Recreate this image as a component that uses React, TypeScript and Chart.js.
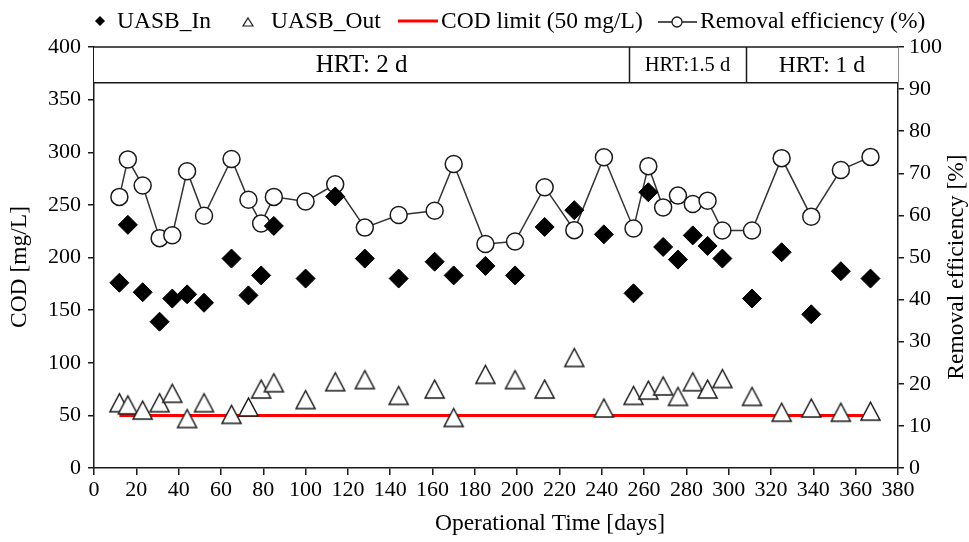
import React, { useEffect, useRef } from 'react';
import { Chart, registerables } from 'chart.js';

Chart.register(...registerables);

// Sampling days shared by the three measured series
const operationalDays = [
  12, 16, 23, 31, 37, 44, 52, 65, 73, 79, 85, 100, 114, 128, 144, 161, 170,
  185, 199, 213, 227, 241, 255, 262, 269, 276, 283, 290, 297, 311, 325, 339, 353, 367,
];

// Influent COD (mg/L)
const codIn = [
  176, 231, 167, 139, 161, 165, 157, 199, 164, 183, 230, 180, 258, 199, 180, 196, 183,
  192, 183, 229, 245, 222, 166, 262, 210, 198, 221, 211, 199, 161, 205, 146, 187, 180,
];

// Effluent COD (mg/L)
const codOut = [
  62, 60, 55, 62, 71, 47, 62, 51, 58, 75, 81, 65, 82, 84, 69, 75, 48,
  89, 84, 75, 105, 57, 69, 74, 78, 68, 82, 75, 85, 68, 53, 57, 53, 54,
];

// COD removal efficiency (%)
const removalPct = [
  64.4, 73.3, 67.1, 54.6, 55.3, 70.5, 59.9, 73.4, 63.7, 58.1, 64.4, 63.3, 67.4, 57.1, 60.1, 61.1, 72.2,
  53.2, 53.8, 66.7, 56.5, 73.8, 56.9, 71.7, 61.9, 64.7, 62.7, 63.5, 56.4, 56.4, 73.6, 59.7, 70.8, 73.9,
];

// Discharge limit
const limitDays = [12, 367];
const limitValues = [50, 50];

// Hydraulic retention time periods (day boundaries) shown in the top band
const hrtBoundaries = [0, 253, 308, 380];
const hrtLabels = ['HRT: 2 d', 'HRT:1.5 d', 'HRT: 1 d'];
const hrtBandFloor = 366;

const legendLabels = ['UASB_In', 'UASB_Out', 'COD limit (50 mg/L)', 'Removal efficiency (%)'];
const xTitle = 'Operational Time [days]';
const yTitle = 'COD [mg/L]';
const y1Title = 'Removal efficiency [%]';

const SERIF = '"Liberation Serif", "Times New Roman", serif';
const INK = '#1a1a1a';

const pts = (xs: number[], ys: number[]) => xs.map((x, i) => ({ x, y: ys[i] }));

function makeTriangle(w: number, h: number, lw: number): HTMLCanvasElement {
  const c = document.createElement('canvas');
  const pad = Math.ceil(lw) + 1;
  c.width = w + pad * 2;
  c.height = h + pad * 2;
  const g = c.getContext('2d')!;
  g.beginPath();
  g.moveTo(pad + w / 2, pad);
  g.lineTo(pad + w, pad + h);
  g.lineTo(pad, pad + h);
  g.closePath();
  g.fillStyle = '#fff';
  g.fill();
  g.lineWidth = lw;
  g.strokeStyle = INK;
  g.lineJoin = 'miter';
  g.stroke();
  return c;
}

const hrtBandPlugin = {
  id: 'hrtBand',
  afterDatasetsDraw(chart: any) {
    const { ctx, chartArea, scales } = chart;
    const x = scales.x;
    const y = scales.y;
    const top = y.getPixelForValue(400);
    const bottom = y.getPixelForValue(hrtBandFloor);
    ctx.save();
    ctx.fillStyle = '#fff';
    ctx.fillRect(chartArea.left, top, chartArea.right - chartArea.left, bottom - top);
    ctx.strokeStyle = INK;
    ctx.lineWidth = 1.5;
    ctx.beginPath();
    ctx.moveTo(chartArea.left, top);
    ctx.lineTo(chartArea.right, top);
    ctx.moveTo(chartArea.left, bottom);
    ctx.lineTo(chartArea.right, bottom);
    for (let i = 1; i < hrtBoundaries.length - 1; i++) {
      const px = Math.round(x.getPixelForValue(hrtBoundaries[i])) + 0.5;
      ctx.moveTo(px, top);
      ctx.lineTo(px, bottom);
    }
    ctx.stroke();
    const sizes = [25, 20.5, 23.5];
    ctx.fillStyle = '#000';
    ctx.textAlign = 'center';
    ctx.textBaseline = 'middle';
    for (let i = 0; i < hrtLabels.length; i++) {
      const a = x.getPixelForValue(hrtBoundaries[i]);
      const b = x.getPixelForValue(hrtBoundaries[i + 1]);
      ctx.font = `${sizes[i]}px ${SERIF}`;
      ctx.fillText(hrtLabels[i], (a + b) / 2, (top + bottom) / 2 + 1);
    }
    ctx.restore();
  },
};

const decorPlugin = {
  id: 'decor',
  afterDraw(chart: any) {
    const { ctx } = chart;
    ctx.save();
    ctx.fillStyle = '#000';
    ctx.font = `23.5px ${SERIF}`;
    ctx.textBaseline = 'alphabetic';
    ctx.textAlign = 'left';

    // legend
    const ly = 21;
    const base = 28;
    // diamond
    ctx.beginPath();
    ctx.moveTo(100, ly - 5);
    ctx.lineTo(105, ly);
    ctx.lineTo(100, ly + 5);
    ctx.lineTo(95, ly);
    ctx.closePath();
    ctx.fill();
    ctx.fillText(legendLabels[0], 117, base);
    // triangle
    ctx.beginPath();
    ctx.moveTo(248, ly - 3);
    ctx.lineTo(253, ly + 5);
    ctx.lineTo(243, ly + 5);
    ctx.closePath();
    ctx.strokeStyle = INK;
    ctx.lineWidth = 1.2;
    ctx.stroke();
    ctx.fillText(legendLabels[1], 271, base);
    // red limit line
    ctx.beginPath();
    ctx.moveTo(398, ly);
    ctx.lineTo(438, ly);
    ctx.strokeStyle = '#ff0000';
    ctx.lineWidth = 3;
    ctx.stroke();
    ctx.fillText(legendLabels[2], 441, base);
    // line with open circle
    ctx.beginPath();
    ctx.moveTo(658, ly + 1);
    ctx.lineTo(697, ly + 1);
    ctx.strokeStyle = INK;
    ctx.lineWidth = 1.3;
    ctx.stroke();
    ctx.beginPath();
    ctx.arc(677, ly + 1, 5, 0, Math.PI * 2);
    ctx.fillStyle = '#fff';
    ctx.fill();
    ctx.stroke();
    ctx.fillStyle = '#000';
    ctx.fillText(legendLabels[3], 700, base);

    // axis titles
    ctx.textAlign = 'center';
    ctx.textBaseline = 'middle';
    ctx.fillText(xTitle, 550, 524);
    ctx.save();
    ctx.translate(20, 267);
    ctx.rotate(-Math.PI / 2);
    ctx.fillText(yTitle, 0, 0);
    ctx.restore();
    ctx.save();
    ctx.translate(957, 267);
    ctx.rotate(-Math.PI / 2);
    ctx.fillText(y1Title, 0, 0);
    ctx.restore();
    ctx.restore();
  },
};

export default function App() {
  const canvasRef = useRef<HTMLCanvasElement | null>(null);

  useEffect(() => {
    const canvas = canvasRef.current;
    if (!canvas) return;
    const triangle = makeTriangle(19, 18, 1.5);

    const tickFont = { family: SERIF, size: 22 };
    const axisGrid = {
      display: true,
      drawOnChartArea: false,
      drawTicks: true,
      tickLength: 7,
      color: INK,
      lineWidth: 1.5,
    };
    const axisBorder = { display: true, color: INK, width: 1.5 };

    const chart = new Chart(canvas, {
      type: 'line',
      data: {
        datasets: [
          {
            label: legendLabels[0],
            data: pts(operationalDays, codIn),
            yAxisID: 'y',
            showLine: false,
            pointStyle: 'rectRot',
            pointRadius: 9.5,
            pointBackgroundColor: '#000',
            pointBorderColor: '#000',
            pointBorderWidth: 1,
          },
          {
            label: legendLabels[1],
            data: pts(operationalDays, codOut),
            yAxisID: 'y',
            showLine: false,
            pointStyle: triangle,
            pointRadius: 9,
          },
          {
            label: legendLabels[2],
            data: pts(limitDays, limitValues),
            yAxisID: 'y',
            borderColor: '#ff0000',
            borderWidth: 3,
            pointRadius: 0,
            fill: false,
          },
          {
            label: legendLabels[3],
            data: pts(operationalDays, removalPct),
            yAxisID: 'y1',
            borderColor: '#333',
            borderWidth: 1.5,
            tension: 0,
            pointStyle: 'circle',
            pointRadius: 8.5,
            pointBackgroundColor: '#fff',
            pointBorderColor: INK,
            pointBorderWidth: 1.5,
            fill: false,
          },
        ],
      },
      options: {
        animation: false,
        responsive: true,
        maintainAspectRatio: false,
        layout: { padding: { top: 47, left: 0, right: 0, bottom: 0 } },
        plugins: {
          legend: { display: false },
          tooltip: { enabled: false },
        },
        scales: {
          x: {
            type: 'linear',
            min: 0,
            max: 380,
            ticks: {
              stepSize: 20,
              autoSkip: false,
              maxRotation: 0,
              font: tickFont,
              color: '#000',
              padding: 2,
            },
            grid: axisGrid,
            border: axisBorder,
            afterFit: (s: any) => {
              s.height = 74;
            },
          },
          y: {
            type: 'linear',
            position: 'left',
            min: 0,
            max: 400,
            ticks: { stepSize: 50, font: tickFont, color: '#000', padding: 7 },
            grid: { ...axisGrid, tickLength: 6 },
            border: axisBorder,
            afterFit: (s: any) => {
              s.width = 94;
            },
          },
          y1: {
            type: 'linear',
            position: 'right',
            min: 0,
            max: 100,
            ticks: { stepSize: 10, font: tickFont, color: '#000', padding: 5 },
            grid: { ...axisGrid, tickLength: 6 },
            border: axisBorder,
            afterFit: (s: any) => {
              s.width = 71;
            },
          },
        },
      },
      plugins: [hrtBandPlugin, decorPlugin],
    } as any);

    return () => chart.destroy();
  }, []);

  return (
    <div style={{ position: 'absolute', left: 0, top: 0, width: 969, height: 542 }}>
      <canvas ref={canvasRef} />
    </div>
  );
}
